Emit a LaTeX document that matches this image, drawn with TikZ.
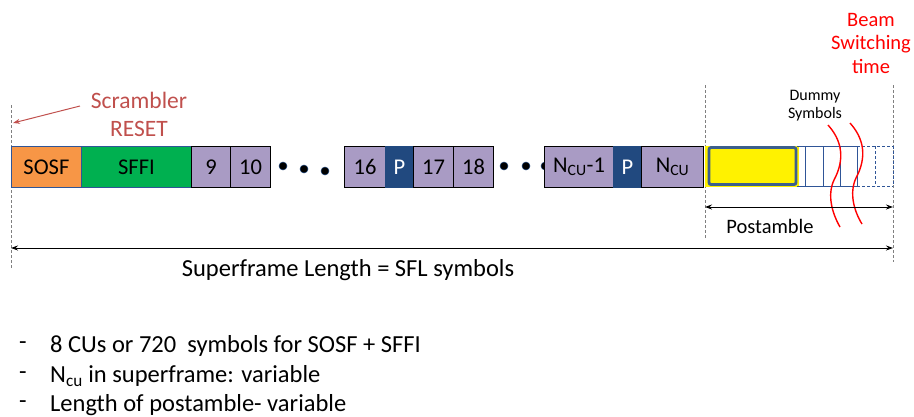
\documentclass[tikz,border=0pt]{standalone}
\usepackage{fontspec}
\setmainfont{Carlito}
\usetikzlibrary{arrows.meta}
\definecolor{sosfc}{HTML}{F79646}
\definecolor{sffic}{HTML}{00B050}
\definecolor{purp}{HTML}{A99BC4}
\definecolor{pblue}{HTML}{21497F}
\definecolor{bord}{HTML}{2F5597}
\definecolor{thick}{HTML}{3C5F8C}
\definecolor{scr}{HTML}{C0504D}
\definecolor{guide}{HTML}{808080}
\tikzset{
  cell/.style={draw=black, line width=1.1pt, fill=purp, minimum height=41, inner sep=0pt, anchor=north west, font=\fontsize{22.5}{24}\selectfont},
  headcell/.style={cell, draw=bord, line width=0.9pt},
  pcell/.style={cell, draw=pblue, fill=pblue, text=white},
  dotc/.style={circle, fill=black, draw=pblue, line width=0.5pt, minimum size=8, inner sep=0pt},
  guideline/.style={guide, densely dashed, line width=0.6pt},
  dummy/.style={bord, line width=0.9pt},
  wave/.style={red, line width=1.4pt},
  dim/.style={black, line width=1pt, {Stealth[length=7pt,width=5pt]}-{Stealth[length=7pt,width=5pt]}},
  lbl/.style={inner sep=0pt, font=\fontsize{24.5}{26}\selectfont},
}
\begin{document}
\begin{tikzpicture}[x=1pt,y=-1pt]
\useasboundingbox (0,0) rectangle (914,416);
% guide lines
\coordinate (gl1) at (11,105); \coordinate (gl2) at (11,268);
\coordinate (gm1) at (705,85); \coordinate (gm2) at (705,238);
\coordinate (gr1) at (893,85); \coordinate (gr2) at (893,262);
\draw[guideline] (gl1) -- (gl2);
\draw[guideline] (gm1) -- (gm2);
\draw[guideline] (gr1) -- (gr2);
% cells
\node[headcell, fill=sosfc, minimum width=70] (sosf) at (11,146) {SOSF};
\node[headcell, fill=sffic, minimum width=110] (sffi) at (81,146) {SFFI};
\node[cell, minimum width=39] (c9) at (191,146) {9};
\node[cell, minimum width=40] (c10) at (230,146) {10};
\node[dotc] (d1) at (283,166) {};
\node[dotc] (d2) at (304,169) {};
\node[dotc] (d3) at (325,171) {};
\node[cell, minimum width=41] (c16) at (344,146) {16};
\node[pcell, minimum width=28] (p1) at (385,146) {P};
\node[cell, minimum width=40] (c17) at (413,146) {17};
\node[cell, minimum width=40] (c18) at (453,146) {18};
\node[dotc] (d4) at (504,166) {};
\node[dotc] (d5) at (526,166) {};
\node[dotc] (d6) at (545,166) {};
\node[cell, minimum width=69] (cn1) at (544,146) {N\textsubscript{CU}-1};
\node[pcell, minimum width=28] (p2) at (613,146) {P};
\node[cell, minimum width=62] (cn) at (641,146) {N\textsubscript{CU}};
% postamble
\node[draw=yellow, fill=yellow, line width=0.8pt, minimum width=93, minimum height=40, inner sep=0pt, anchor=north west] (yel) at (705,146) {};
\draw[line width=2.8pt, rounded corners=2pt, color=thick] (709,147.5) rectangle (796,184.5);
\draw[dummy] (797,146) -- (857,146);
\draw[dummy] (797,186) -- (857,186);
\draw[dummy] (805,146) -- (805,186);
\draw[dummy] (823,146) -- (823,186);
\draw[dummy] (840,146) -- (840,186);
\draw[dummy] (857,146) -- (857,186);
\draw[dummy, densely dashed] (857,146) -- (893,146);
\draw[dummy, densely dashed] (857,186) -- (893,186);
\draw[dummy, densely dashed] (875,146) -- (875,186);
\draw[dummy, densely dashed] (893,146) -- (893,186);
% waves
\draw[wave] (828,125) .. controls (846,145) and (842,165) .. (834,180) .. controls (827,195) and (832,213) .. (840,227);
\draw[wave] (850,123) .. controls (868,143) and (864,163) .. (856,178) .. controls (849,193) and (854,211) .. (862,224);
% dimension arrows
\coordinate (pa) at (705,207); \coordinate (pb) at (893,207);
\draw[dim] (pa) -- (pb);
\coordinate (sa) at (11,248); \coordinate (sb) at (893,248);
\draw[dim] (sa) -- (sb);
\node[inner sep=0pt, font=\fontsize{20.5}{22}\selectfont] (post) at (770,226) {Postamble};
\node[lbl] (sfl) at (348,270) {Superframe Length = SFL symbols};
% labels
\node[inner sep=0pt, align=center, font=\fontsize{16}{18}\selectfont] (dum) at (815,106) {Dummy\\Symbols};
\node[inner sep=0pt, align=center, text=red, font=\fontsize{20.5}{23.5}\selectfont] (beam) at (871,43) {Beam\\Switching\\time};
\node[inner sep=0pt, align=center, text=scr, font=\fontsize{23.5}{28}\selectfont] (scram) at (139,114) {Scrambler\\RESET};
\coordinate (sc1) at (80,106); \coordinate (sc2) at (13,123);
\draw[scr, line width=1pt, -{Stealth[length=7pt,width=5pt]}] (sc1) -- (sc2);
% bullets
\node[lbl, anchor=west] (b1) at (50,346) {8 CUs or 720\ \ symbols for SOSF + SFFI};
\node[lbl, anchor=west] (b2) at (50,376) {N\textsubscript{cu} in superframe: variable};
\node[lbl, anchor=west] (b3) at (50,405) {Length of postamble- variable};
\node[lbl] (m1) at (23,346) {-};
\node[lbl] (m2) at (23,376) {-};
\node[lbl] (m3) at (23,405) {-};
\end{tikzpicture}
\end{document}
